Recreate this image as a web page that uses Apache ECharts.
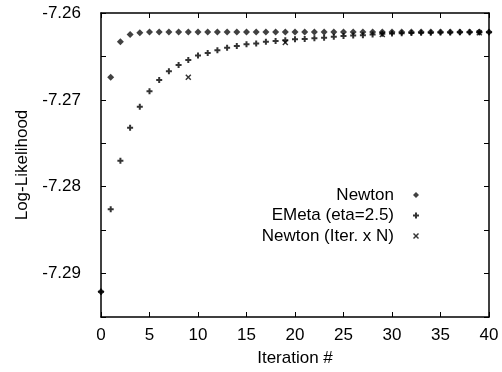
<!DOCTYPE html>
<html>
<head>
<meta charset="utf-8">
<script src="https://cdn.jsdelivr.net/npm/echarts@6/dist/echarts.min.js"></script>
<style>
  html, body {margin: 0; padding: 0; background: #fff;}
  #chart {width: 502px; height: 372px;}
</style>
</head>
<body>
<div id="chart"></div>
<script>
const iterations = Array.from({length: 41}, (_, i) => i);

const newton = [
  -7.2921, -7.2674, -7.2633, -7.26247, -7.26228,
  -7.2622, -7.2622, -7.2622, -7.2622, -7.2622,
  -7.2622, -7.2622, -7.2622, -7.2622, -7.2622,
  -7.2622, -7.2622, -7.2622, -7.2622, -7.2622,
  -7.2622, -7.2622, -7.2622, -7.2622, -7.2622,
  -7.2622, -7.2622, -7.2622, -7.2622, -7.2622,
  -7.2622, -7.2622, -7.2622, -7.2622, -7.2622,
  -7.2622, -7.2622, -7.2622, -7.2622, -7.2622,
  -7.2622
];

const emeta = [
  -7.2921, -7.2826, -7.2770, -7.2732, -7.2708,
  -7.2690, -7.2677, -7.2667, -7.2660, -7.2654,
  -7.2649, -7.2646, -7.2643, -7.2640, -7.2638,
  -7.2636, -7.2635, -7.2633, -7.26322, -7.26315,
  -7.26303, -7.26300, -7.26292, -7.26284, -7.26273,
  -7.26266, -7.26258, -7.26255, -7.26247, -7.26239,
  -7.26236, -7.26233, -7.26230, -7.26228, -7.26226,
  -7.26225, -7.26224, -7.26223, -7.26222, -7.26222,
  -7.26221
];

const iterNx = [9, 19, 29, 39];
const iterNy = [-7.2674, -7.2634, -7.26247, -7.26228];

const names = ['Newton', 'EMeta (eta=2.5)', 'Newton (Iter. x N)'];

const plusPath = 'path://M2,0h2v2h2v2h-2v2h-2v-2h-2v-2h2z';
const crossPath = 'path://M0,1L1,0L3,2L5,0L6,1L4,3L6,5L5,6L3,4L1,6L0,5L2,3Z';

const font = 'Liberation Sans, Arial, Helvetica, sans-serif';
const black = '#000';

const xCommon = {
  type: 'value', min: 0, max: 40, interval: 5,
  axisLine: {show: true, onZero: false, lineStyle: {color: black, width: 1.5}},
  axisTick: {show: true, inside: true, length: 5, lineStyle: {color: black, width: 1}},
  splitLine: {show: false}
};
const yCommon = {
  type: 'value', min: -7.295, max: -7.26, interval: 0.005,
  axisLine: {show: true, onZero: false, lineStyle: {color: black, width: 1.5}},
  axisTick: {show: true, inside: true, length: 5, lineStyle: {color: black, width: 1}},
  splitLine: {show: false}
};

const chart = echarts.init(document.getElementById('chart'), null, {renderer: 'canvas'});
chart.setOption({
  animation: false,
  backgroundColor: '#fff',
  textStyle: {fontFamily: font, color: black},
  grid: {left: 101, right: 13, top: 13, bottom: 48},
  legend: {
    orient: 'vertical',
    right: 78,
    top: 180,
    align: 'right',
    itemGap: 0.5,
    itemWidth: 6,
    itemHeight: 6,
    textStyle: {fontFamily: font, fontSize: 17, lineHeight: 20, color: black, padding: [0, 14, 0, 0]},
    data: [
      {name: names[0], icon: 'diamond'},
      {name: names[1], icon: plusPath},
      {name: names[2], icon: crossPath}
    ]
  },
  xAxis: [
    {
      ...xCommon,
      position: 'bottom',
      name: 'Iteration #',
      nameLocation: 'middle',
      nameGap: 33,
      nameTextStyle: {fontFamily: font, fontSize: 17, color: black},
      axisLabel: {show: true, margin: 10, fontFamily: font, fontSize: 17, color: black}
    },
    {...xCommon, position: 'top', axisLabel: {show: false}}
  ],
  yAxis: [
    {
      ...yCommon,
      position: 'left',
      name: 'Log-Likelihood',
      nameLocation: 'middle',
      nameGap: 70,
      nameTextStyle: {fontFamily: font, fontSize: 17, color: black},
      axisLabel: {
        show: true, margin: 20, fontFamily: font, fontSize: 17, color: black,
        formatter(v) {
          return Math.round(v * 1000) % 10 === 0 ? v.toFixed(2) : '';
        }
      }
    },
    {...yCommon, position: 'right', axisLabel: {show: false}}
  ],
  series: [
    {
      name: names[0],
      type: 'scatter',
      symbol: 'diamond',
      symbolSize: [7, 7],
      itemStyle: {color: '#111'},
      data: iterations.map((x, i) => [x, newton[i]])
    },
    {
      name: names[1],
      type: 'scatter',
      symbol: plusPath,
      symbolSize: 6,
      itemStyle: {color: black},
      data: iterations.map((x, i) => [x, emeta[i]])
    },
    {
      name: names[2],
      type: 'scatter',
      symbol: crossPath,
      symbolSize: 6,
      itemStyle: {color: black},
      data: iterNx.map((x, i) => [x, iterNy[i]])
    }
  ]
});
</script>
</body>
</html>
